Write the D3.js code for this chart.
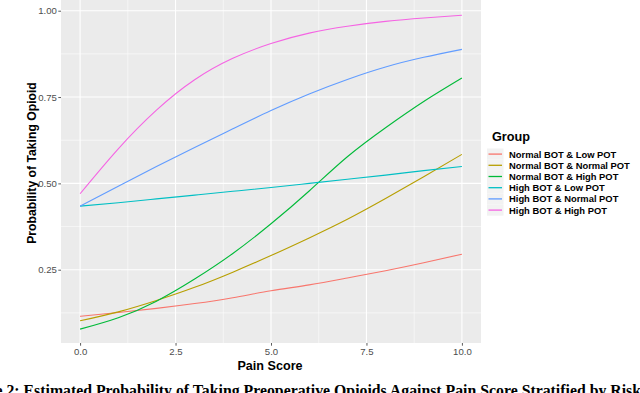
<!DOCTYPE html>
<html>
<head>
<meta charset="utf-8">
<script src="https://cdn.jsdelivr.net/npm/d3@7"></script>
<style>
  body { margin: 0; background: #fff; }
  svg { display: block; }
  text { font-family: "Liberation Sans", Arial, sans-serif; }
</style>
</head>
<body>
<svg id="chart" width="640" height="393"></svg>
<script>
// values, one point per pain score
var painScores = [0, 1, 2, 3, 4, 5, 6, 7, 8, 9, 10];

var normalBotLowPot    = [0.115, 0.126, 0.138, 0.152, 0.169, 0.189, 0.206, 0.226, 0.247, 0.270, 0.295];
var normalBotNormalPot = [0.102, 0.128, 0.161, 0.199, 0.243, 0.291, 0.342, 0.396, 0.456, 0.519, 0.584];
var normalBotHighPot   = [0.078, 0.111, 0.159, 0.223, 0.297, 0.383, 0.478, 0.577, 0.661, 0.737, 0.805];
var highBotLowPot      = [0.434, 0.444, 0.455, 0.466, 0.477, 0.488, 0.500, 0.512, 0.524, 0.537, 0.549];
var highBotNormalPot   = [0.434, 0.492, 0.549, 0.604, 0.658, 0.711, 0.759, 0.801, 0.837, 0.865, 0.888];
var highBotHighPot     = [0.470, 0.600, 0.712, 0.800, 0.862, 0.905, 0.935, 0.955, 0.969, 0.979, 0.987];

var groups = ["Normal BOT & Low POT", "Normal BOT & Normal POT", "Normal BOT & High POT",
              "High BOT & Low POT", "High BOT & Normal POT", "High BOT & High POT"];
var groupValues = [normalBotLowPot, normalBotNormalPot, normalBotHighPot,
                   highBotLowPot, highBotNormalPot, highBotHighPot];
var groupColors = ["#F8766D", "#B79F00", "#00BA38", "#00BFC4", "#619CFF", "#F564E3"];

var xTicks = [0, 2.5, 5, 7.5, 10];
var xMinor = [1.25, 3.75, 6.25, 8.75];
var yTicks = [0.25, 0.5, 0.75, 1.0];
var yMinor = [0.125, 0.375, 0.625, 0.875];

var captionText = "Figure 2: Estimated Probability of Taking Preoperative Opioids Against Pain Score Stratified by Risk";

var svg = d3.select("#chart");

// PANEL
var PANEL_LEFT = 61, PANEL_RIGHT = 481, PANEL_TOP = 0, PANEL_BOTTOM = 343;

var x = d3.scaleLinear().domain([-0.5, 10.5]).range([PANEL_LEFT, PANEL_RIGHT]);
var y = d3.scaleLinear().domain([0.0378, 1.031]).range([PANEL_BOTTOM, PANEL_TOP]);

svg.append("rect")
    .attr("x", PANEL_LEFT).attr("y", PANEL_TOP)
    .attr("width", PANEL_RIGHT - PANEL_LEFT).attr("height", PANEL_BOTTOM - PANEL_TOP)
    .attr("fill", "#EBEBEB");

var grid = svg.append("g");
grid.selectAll(".xminor").data(xMinor).enter().append("line")
    .attr("x1", function(d){ return x(d); }).attr("x2", function(d){ return x(d); })
    .attr("y1", PANEL_TOP).attr("y2", PANEL_BOTTOM)
    .attr("stroke", "#fff").attr("stroke-width", 0.55);
grid.selectAll(".yminor").data(yMinor).enter().append("line")
    .attr("y1", function(d){ return y(d); }).attr("y2", function(d){ return y(d); })
    .attr("x1", PANEL_LEFT).attr("x2", PANEL_RIGHT)
    .attr("stroke", "#fff").attr("stroke-width", 0.55);
grid.selectAll(".xmajor").data(xTicks).enter().append("line")
    .attr("x1", function(d){ return x(d); }).attr("x2", function(d){ return x(d); })
    .attr("y1", PANEL_TOP).attr("y2", PANEL_BOTTOM)
    .attr("stroke", "#fff").attr("stroke-width", 1.1);
grid.selectAll(".ymajor").data(yTicks).enter().append("line")
    .attr("y1", function(d){ return y(d); }).attr("y2", function(d){ return y(d); })
    .attr("x1", PANEL_LEFT).attr("x2", PANEL_RIGHT)
    .attr("stroke", "#fff").attr("stroke-width", 1.1);

// LINES
var line = d3.line()
    .x(function(d, i){ return x(painScores[i]); })
    .y(function(d){ return y(d); })
    .curve(d3.curveNatural);

svg.append("g").selectAll("path")
    .data(groupValues)
    .enter().append("path")
    .attr("d", line)
    .attr("fill", "none")
    .attr("stroke", function(d, i){ return groupColors[i]; })
    .attr("stroke-width", 1.1);

// AXES
var xAxis = d3.axisBottom(x).tickValues(xTicks).tickFormat(d3.format(".1f")).tickSize(2.7).tickPadding(2.5);
var yAxis = d3.axisLeft(y).tickValues(yTicks).tickFormat(d3.format(".2f")).tickSize(2.7).tickPadding(1.5);

var gx = svg.append("g").attr("transform", "translate(0," + PANEL_BOTTOM + ")").call(xAxis);
var gy = svg.append("g").attr("transform", "translate(" + PANEL_LEFT + ",0)").call(yAxis);
[gx, gy].forEach(function(g){
    g.select(".domain").remove();
    g.selectAll(".tick line").attr("stroke", "#333").attr("stroke-width", 0.8);
    g.selectAll(".tick text").attr("fill", "#4D4D4D").style("font-size", "9.6px")
        .style("font-family", "'Liberation Sans', Arial, sans-serif");
});

svg.append("text")
    .attr("x", 270).attr("y", 370)
    .attr("text-anchor", "middle")
    .style("font-size", "12.6px").style("font-weight", "bold")
    .text("Pain Score");

svg.append("text")
    .attr("transform", "translate(36,163) rotate(-90)")
    .attr("text-anchor", "middle")
    .style("font-size", "12.2px").style("font-weight", "bold")
    .text("Probability of Taking Opioid");

// LEGEND
var legend = svg.append("g").attr("transform", "translate(485,0)");
legend.append("text")
    .attr("x", 7).attr("y", 141)
    .style("font-size", "12.7px").style("font-weight", "bold")
    .text("Group");

var ROW_H = 11.2, ROW_TOP = 148.5;
var rows = legend.selectAll(".row").data(groups).enter().append("g")
    .attr("transform", function(d, i){ return "translate(0," + (ROW_TOP + i * ROW_H) + ")"; });
rows.append("rect")
    .attr("x", 2).attr("y", 0).attr("width", 16.5).attr("height", ROW_H)
    .attr("fill", "#F2F2F2");
rows.append("line")
    .attr("x1", 3.5).attr("x2", 17)
    .attr("y1", ROW_H / 2).attr("y2", ROW_H / 2)
    .attr("stroke", function(d, i){ return groupColors[i]; })
    .attr("stroke-width", 1.3);
rows.append("text")
    .attr("x", 24).attr("y", ROW_H / 2 + 3.4)
    .style("font-size", "9.4px").style("font-weight", "bold")
    .text(function(d){ return d; });

// CAPTION (cut off by the frame, like the source)
svg.append("text")
    .attr("x", 641).attr("y", 396)
    .attr("text-anchor", "end")
    .style("font-family", "'Liberation Serif', 'Times New Roman', serif")
    .style("font-size", "15.8px").style("font-weight", "bold")
    .text(captionText);
</script>
</body>
</html>
